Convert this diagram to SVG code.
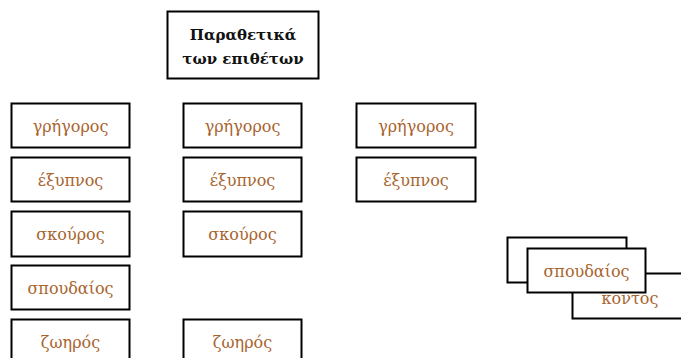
<svg xmlns="http://www.w3.org/2000/svg" width="681" height="358" viewBox="0 0 681 358">
<style>
.box{fill:#fff;stroke:#000;stroke-width:2}
.t{font-family:"DejaVu Serif","Liberation Serif",serif;font-size:16px;fill:#A8642E;text-anchor:middle}
.h{font-family:"DejaVu Serif","Liberation Serif",serif;font-size:15px;font-weight:bold;fill:#111;text-anchor:middle}
</style>
<rect width="681" height="358" fill="#fff"/>
<g id="title"><rect class="box" x="167.5" y="11.5" width="151" height="67"/>
<text class="h" x="243" y="40">Παραθετικά</text>
<text class="h" x="243" y="64">των επιθέτων</text></g>
<g id="l1"><rect class="box" x="11.5" y="103.5" width="118" height="44"/><text class="t" x="70.5" y="132">γρήγορος</text></g>
<g id="l2"><rect class="box" x="11.5" y="157.5" width="118" height="44"/><text class="t" x="70.5" y="186">έξυπνος</text></g>
<g id="l3"><rect class="box" x="11.5" y="211.5" width="118" height="45"/><text class="t" x="70.5" y="240">σκούρος</text></g>
<g id="l4"><rect class="box" x="11.5" y="265.5" width="118" height="44"/><text class="t" x="70.5" y="294">σπουδαίος</text></g>
<g id="l5"><rect class="box" x="11.5" y="319.5" width="118" height="44"/><text class="t" x="70.5" y="348">ζωηρός</text></g>
<g id="m1"><rect class="box" x="183.5" y="103.5" width="118" height="44"/><text class="t" x="242.5" y="132">γρήγορος</text></g>
<g id="m2"><rect class="box" x="183.5" y="157.5" width="118" height="44"/><text class="t" x="242.5" y="186">έξυπνος</text></g>
<g id="m3"><rect class="box" x="183.5" y="211.5" width="118" height="45"/><text class="t" x="242.5" y="240">σκούρος</text></g>
<g id="m5"><rect class="box" x="183.5" y="319.5" width="118" height="44"/><text class="t" x="242.5" y="348">ζωηρός</text></g>
<g id="r1"><rect class="box" x="356.5" y="103.5" width="119" height="44"/><text class="t" x="416" y="132">γρήγορος</text></g>
<g id="r2"><rect class="box" x="356.5" y="157.5" width="119" height="44"/><text class="t" x="416" y="186">έξυπνος</text></g>
<g id="s1"><rect class="box" x="507.5" y="237.5" width="119" height="45"/></g>
<g id="s3"><rect class="box" x="572.5" y="273.5" width="120" height="45"/><text class="t" x="630" y="304">κοντος</text></g>
<g id="s2"><rect class="box" x="527.5" y="248.5" width="118" height="44"/><text class="t" x="586.5" y="277">σπουδαίος</text></g>
<g id="connectors"></g>
</svg>
